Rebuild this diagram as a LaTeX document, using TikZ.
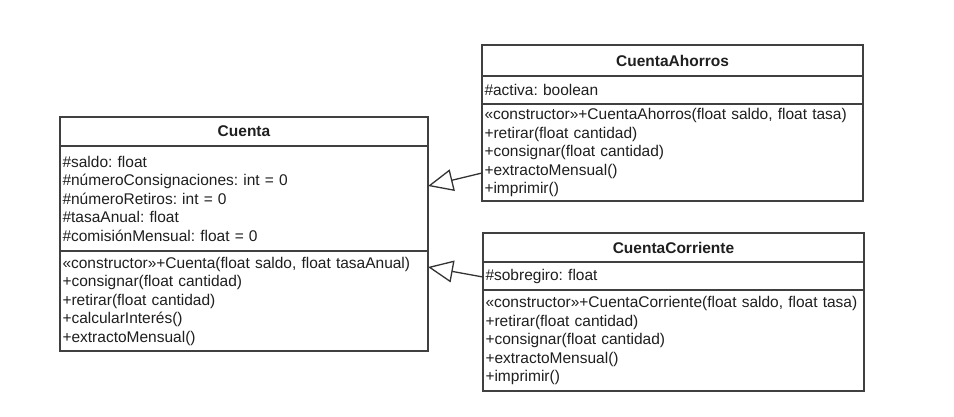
\documentclass[tikz,border=0pt]{standalone}
\usepackage{fontspec}
\setmainfont{Liberation Sans}
\usetikzlibrary{arrows.meta,calc}
\frenchspacing

\begin{document}
\begin{tikzpicture}[x=1pt,y=-1pt,
	every node/.style={font=\fontsize{15.5}{18.5}\selectfont,text=black!88},
	box/.style={draw=black!75,line width=1.3pt,inner sep=0pt,outer sep=0pt,anchor=north west},
	head/.style={box,font=\fontsize{15.5}{18.5}\selectfont\bfseries},
	body/.style={box,inner xsep=2.5pt,align=left},
	inherit/.style={draw=black!80,line width=1.3pt,-{Triangle[open,length=25pt,width=22pt]}}]
	\useasboundingbox[fill=white] (0,0) rectangle (954,416);
	
	% Cuenta
	\node[head,minimum width=368pt,minimum height=29pt] (cuentaHead) at (60,117) {Cuenta};
	\node[body,text width=363pt,minimum height=105pt] (cuentaAttr) at (cuentaHead.south west) {\#saldo: float\\\#númeroConsignaciones: int = 0\\\#númeroRetiros: int = 0\\\#tasaAnual: float\\\#comisiónMensual: float = 0};
	\node[body,text width=363pt,minimum height=100pt] (cuentaOps) at (cuentaAttr.south west) {«constructor»+Cuenta(float saldo, float tasaAnual)\\+consignar(float cantidad)\\+retirar(float cantidad)\\+calcularInterés()\\+extractoMensual()};
	
	% CuentaAhorros
	\node[head,minimum width=381pt,minimum height=31pt] (ahorrosHead) at (482,45) {CuentaAhorros};
	\node[body,text width=376pt,minimum height=28pt] (ahorrosAttr) at (ahorrosHead.south west) {\#activa: boolean};
	\node[body,text width=376pt,minimum height=97pt] (ahorrosOps) at (ahorrosAttr.south west) {«constructor»+CuentaAhorros(float saldo, float tasa)\\+retirar(float cantidad)\\+consignar(float cantidad)\\+extractoMensual()\\+imprimir()};
	
	% CuentaCorriente
	\node[head,minimum width=381pt,minimum height=29pt] (corrienteHead) at (483,233) {CuentaCorriente};
	\node[body,text width=376pt,minimum height=28pt] (corrienteAttr) at (corrienteHead.south west) {\#sobregiro: float};
	\node[body,text width=376pt,minimum height=101pt] (corrienteOps) at (corrienteAttr.south west) {«constructor»+CuentaCorriente(float saldo, float tasa)\\+retirar(float cantidad)\\+consignar(float cantidad)\\+extractoMensual()\\+imprimir()};
	
	% herencia
	\draw[inherit] ($(ahorrosOps.south west)+(0,-28)$) -- ($(cuentaAttr.north east)+(0,40)$);
	\draw[inherit] ($(corrienteAttr.north west)+(0,15)$) -- ($(cuentaOps.north east)+(0,16)$);
\end{tikzpicture}
\end{document}
